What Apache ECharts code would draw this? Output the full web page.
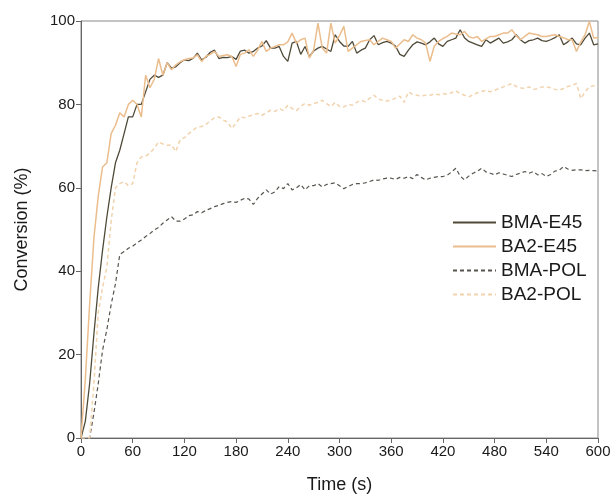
<!DOCTYPE html>
<html>
<head>
<meta charset="utf-8">
<script src="https://cdn.jsdelivr.net/npm/echarts@6/dist/echarts.min.js"></script>
<style>html,body{margin:0;padding:0;background:#fff}#c{width:616px;height:503px}</style>
</head>
<body>
<div id="c"></div>
<script>
// Time axis (s), 5 s step, 0..600
const STEP = 5;
const xTicks = [0, 60, 120, 180, 240, 300, 360, 420, 480, 540, 600];
const yTicks = [0, 20, 40, 60, 80, 100];
const seriesNames = ['BMA-E45', 'BA2-E45', 'BMA-POL', 'BA2-POL'];

const bmaE45 = [
  0,4,13,25,36,45,53,60,66,69,73,77,
  77,80,80,83,86,87,86.5,87,90,88.7,89,90,
  90.7,90.5,91,92.3,90.7,91.3,92.5,93,91,91.3,91.2,91.5,
  90.8,92.8,93,92.3,92.7,93.5,94,95.3,93.5,93.5,93.9,91.5,
  90.3,94.7,95.1,92,93.9,91.5,92.8,93.5,93.9,93.3,92.7,96.7,
  95.1,94,93.9,95.1,92.3,93,93.5,95.5,96.5,94.3,94.8,95.1,
  94.7,94,92,91.5,93,94.3,95,94.7,94.3,95,95.9,94.5,
  93.9,95.1,95.5,95.9,97.9,96,95.1,94.7,94.3,93.9,95.5,94.7,
  95.3,95.9,94.7,95,95.5,96.7,95.5,94.7,95.3,95.5,95.9,95.3,
  95.1,95.5,96,96.7,94.3,95,95.9,94.5,94.3,95.9,97.1,94.3,
  94.5
];
const ba2E45 = [
  0,14,32,48,58,65,66,73,75,78,77,80,
  81,80,77,87,84,86,91,87,90,88.3,89.5,90.2,
  90.7,91,91.1,91.9,90.3,91.5,92,92.7,91.5,91.7,91.9,91.5,
  89.1,92,92.3,93.1,91.5,93,95.1,92.7,93.5,93.9,94.3,94.3,
  95,97.1,94.7,95.5,95.9,91.1,93,99.5,93.5,92.3,99.5,94.7,
  96.5,98.7,92.7,93.5,94.3,95.1,95.3,95.5,94.3,95.1,95.9,95.5,
  95.1,93.5,94.5,95.5,95.1,96.7,95.9,95.5,94.7,90.3,94,95.1,
  95.8,96.3,97.1,96.9,96.7,97.5,96.3,95.9,96.3,95.1,95.7,96.3,
  96.3,96.7,97.1,97.1,97.9,96.5,95.5,96.3,97.1,96.9,96.7,96.3,
  96.3,96.5,96.7,96.3,96,95.5,95.5,92.7,95,96.7,99.9,95.9,
  96
];
const bmaPOL = [
  0,0,0,6,13,21,26,32,37,44,44.7,45.5,
  46,46.8,47.5,48.3,49,49.9,50.5,51.5,52.3,53.1,52,52,
  52.5,53.3,53.5,54.3,54,54.6,55,55.5,55.8,56.2,56.5,56.7,
  56.5,57,57.5,57.3,56,57.5,58.5,59.5,58.5,59,60.3,59.8,
  61,59.5,60,60.8,59.5,60.5,60.5,61,60.2,60.8,61,61.2,
  60.5,59.8,60.3,60.8,61,61,61.2,61.5,61.9,61.8,62.1,62.3,
  62.3,62,62.5,62.3,62.7,62.2,63.2,62.5,61.9,62.3,62.5,62.7,
  62.7,63,63.8,64.7,62.8,61.9,62.8,63.5,64,64.7,63.8,63.5,
  63.1,63.6,63.3,63,62.7,63.2,63.5,63.9,63.5,63.9,63.1,63.4,
  62.7,63.2,64,64.2,65.1,64.5,64.2,64.3,64.3,64.1,64.2,64.1,
  64
];
const ba2POL = [
  0,0,0,13,30,36,41,52,60,61,61.5,60.5,
  61,66,67.4,67.6,68.3,69.5,71,70.5,70.2,70.3,68.7,71.5,
  72,73,73.8,74.6,74.7,75.2,76,76.8,77,76.2,75.8,74.2,
  75.5,77,76.8,77.2,77.5,77.8,77.4,78,78.6,78.3,79,78.5,
  79.8,79,78.5,79.5,80.2,79.8,80.2,80.5,81,80.2,79.5,80.5,
  79.5,79.4,80,79.8,80.5,81,80.6,81.5,82.2,81.3,81,80.8,
  81,81.5,82,80.5,83,82.4,82.2,82,82.2,82.2,82.5,82.3,
  82.6,82.4,82.8,83.3,82.6,82.2,81.8,82.3,82.8,83.1,83.4,83,
  83.4,83.8,84.2,84.6,85,84.3,84,83.8,84.2,83.6,83.8,84.2,
  84.2,84,83.6,83.4,83.8,84.3,84.6,85,81.4,83,84.2,84.5,
  84.2
];

const pair = arr => arr.map((v, i) => [i * STEP, v]);
const FONT = '"Liberation Sans", Arial, sans-serif';

const chart = echarts.init(document.getElementById('c'), null, {renderer: 'canvas'});
const mk = (name, data, color, width, type) => ({
  name, type: 'line', data: pair(data), showSymbol: false, symbol: 'none',
  lineStyle: {color, width, type}, itemStyle: {color}, animation: false
});
chart.setOption({
  animation: false,
  backgroundColor: '#fff',
  grid: {left: 81, right: 18, top: 21, bottom: 65, show: true, borderColor: '#888', borderWidth: 1},
  legend: {
    orient: 'vertical', left: 447, top: 208, itemWidth: 43, itemHeight: 14, itemGap: 5,
    itemStyle: {opacity: 0},
    textStyle: {fontFamily: FONT, fontSize: 19, color: '#1a1a1a'},
    data: seriesNames
  },
  xAxis: {
    type: 'value', min: xTicks[0], max: xTicks[xTicks.length - 1], interval: 60,
    name: 'Time (s)', nameLocation: 'middle', nameGap: 38,
    nameTextStyle: {fontFamily: FONT, fontSize: 18, color: '#1a1a1a'},
    axisLine: {lineStyle: {color: '#666', width: 1}},
    axisTick: {length: 5, lineStyle: {color: '#666'}},
    axisLabel: {fontFamily: FONT, fontSize: 15, color: '#1a1a1a', margin: 6},
    splitLine: {show: false}
  },
  yAxis: {
    type: 'value', min: yTicks[0], max: yTicks[yTicks.length - 1], interval: 20,
    name: 'Conversion (%)', nameLocation: 'middle', nameGap: 50,
    nameTextStyle: {fontFamily: FONT, fontSize: 18, color: '#1a1a1a'},
    axisLine: {show: true, lineStyle: {color: '#666', width: 1}},
    axisTick: {show: true, length: 5, lineStyle: {color: '#666'}},
    axisLabel: {fontFamily: FONT, fontSize: 15, color: '#1a1a1a', margin: 6},
    splitLine: {show: false}
  },
  series: [
    mk(seriesNames[0], bmaE45, '#4f4a38', 1.3, 'solid'),
    mk(seriesNames[1], ba2E45, '#ebbd8c', 1.5, 'solid'),
    mk(seriesNames[2], bmaPOL, '#57554e', 1.2, [4, 3]),
    mk(seriesNames[3], ba2POL, '#f1d3ae', 1.5, [4, 3])
  ]
});
</script>
</body>
</html>
